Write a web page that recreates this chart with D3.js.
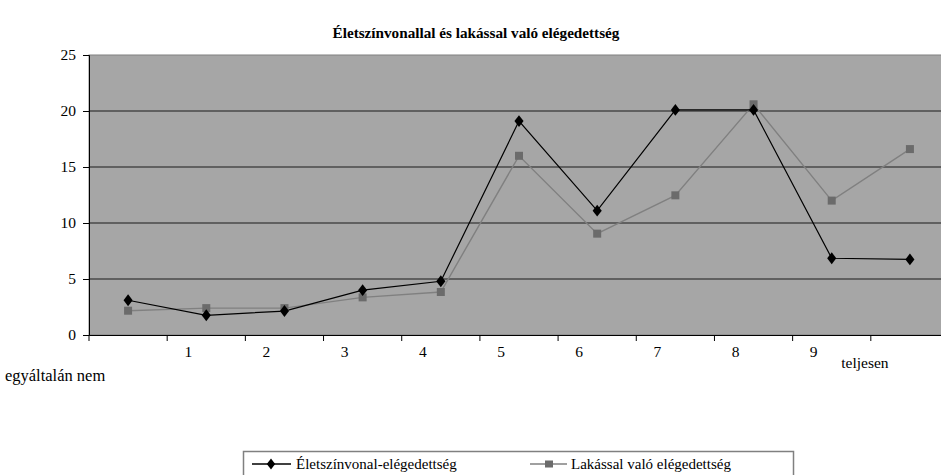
<!DOCTYPE html>
<html><head><meta charset="utf-8">
<script src="https://cdn.jsdelivr.net/npm/d3@7"></script>
<style>
body{margin:0;background:#fff}svg{display:block}
svg text{font-family:'Liberation Serif','Times New Roman',serif !important;}
</style>
</head><body>
<svg id="c" width="941" height="475"></svg>
<script>
const categories = ["egyáltalán nem","1","2","3","4","5","6","7","8","9","teljesen"];
const eletszinvonal = [3.1,1.76,2.14,4.0,4.8,19.1,11.1,20.1,20.1,6.85,6.75];
const lakassal = [2.17,2.4,2.4,3.36,3.84,16.0,9.05,12.47,20.6,12.0,16.6];
const yTicks = [0,5,10,15,20,25];
const seriesNames = ["Életszínvonal-elégedettség","Lakással való elégedettség"];
const title = "Életszínvonallal és lakással való elégedettség";

const svg = d3.select("#c");
const L = 89, R = 949, T = 55, B = 335;
const x = d3.scaleBand().domain(categories).range([L, R]);
const y = d3.scaleLinear().domain([0, 25]).range([B, T]);
const FF = "'Liberation Serif'";

svg.append("text").attr("x", 476).attr("y", 38).attr("text-anchor","middle")
  .attr("font-family", FF).attr("font-weight","bold").attr("font-size", 15.2)
  .text(title);

svg.append("rect").attr("x", L).attr("y", T).attr("width", R-L).attr("height", B-T)
  .attr("fill", "#a6a6a6").attr("stroke","#808080").attr("stroke-width",1);

// gridlines
svg.append("g").selectAll("line").data(yTicks.filter(d=>d>0 && d<25)).join("line")
  .attr("x1", L).attr("x2", R).attr("y1", d=>y(d)).attr("y2", d=>y(d))
  .attr("stroke","#1a1a1a").attr("stroke-width",1);

// y axis
const ya = svg.append("g").attr("transform",`translate(${L},0)`)
  .call(d3.axisLeft(y).tickValues(yTicks).tickSize(6).tickPadding(7));
ya.attr("font-family", FF);
ya.select(".domain").attr("stroke","#000");
ya.selectAll("line").attr("stroke","#000");
ya.selectAll("text").attr("font-size", 15.5).attr("fill","#000");

// x axis
const xa = svg.append("g").attr("transform",`translate(0,${B})`)
  .call(d3.axisBottom(x).tickSize(0).tickFormat(""));
xa.select(".domain").attr("stroke","#000");
svg.append("g").selectAll("line").data(categories).join("line")
  .attr("x1", d=>x(d)).attr("x2", d=>x(d)).attr("y1", B).attr("y2", B+6)
  .attr("stroke","#000");
svg.append("g").selectAll("text").data(categories).join("text")
  .attr("font-family", FF)
  .attr("font-size", (d,i) => i===0 ? 16.5 : 15.5).attr("text-anchor","middle")
  .attr("x", (d,i) => x(d) + x.bandwidth()/2 + (i===0 ? -73 : i===categories.length-1 ? -45 : -18))
  .attr("y", (d,i) => i===0 ? 381 : i===categories.length-1 ? 368 : 357)
  .text(d=>d);

const line = d3.line().x((d,i)=>x(categories[i]) + x.bandwidth()/2).y(d=>y(d));

svg.append("path").datum(lakassal).attr("d", line).attr("fill","none")
  .attr("stroke","#808080").attr("stroke-width",1.4);
svg.append("path").datum(eletszinvonal).attr("d", line).attr("fill","none")
  .attr("stroke","#000").attr("stroke-width",1.2);

svg.append("g").selectAll("rect").data(lakassal).join("rect")
  .attr("x",(d,i)=>x(categories[i]) + x.bandwidth()/2 - 4)
  .attr("y", d=>y(d)-4).attr("width",8).attr("height",8).attr("fill","#6b6b6b");
const diamond = d3.symbol().type(d3.symbolDiamond).size(50);
svg.append("g").selectAll("path").data(eletszinvonal).join("path")
  .attr("d", diamond)
  .attr("transform",(d,i)=>`translate(${x(categories[i]) + x.bandwidth()/2},${y(d)}) scale(1.2,0.9)`)
  .attr("fill","#000");

// legend
const lg = svg.append("g").attr("font-family", FF);
lg.append("rect").attr("x",243.5).attr("y",451.5).attr("width",550).attr("height",40)
  .attr("fill","#fff").attr("stroke","#808080").attr("stroke-width",1.5);
lg.append("line").attr("x1",252).attr("x2",291).attr("y1",464).attr("y2",464).attr("stroke","#000").attr("stroke-width",1.3);
lg.append("path").attr("d",diamond).attr("transform","translate(271,464) scale(1.1,0.85)").attr("fill","#000");
lg.append("text").attr("x",296).attr("y",469).attr("font-size",15).text(seriesNames[0]);
lg.append("line").attr("x1",530).attr("x2",567).attr("y1",464).attr("y2",464).attr("stroke","#808080").attr("stroke-width",1.3);
lg.append("rect").attr("x",545).attr("y",460.5).attr("width",8).attr("height",7).attr("fill","#6b6b6b");
lg.append("text").attr("x",571).attr("y",469).attr("font-size",15).text(seriesNames[1]);
</script>
</body></html>
